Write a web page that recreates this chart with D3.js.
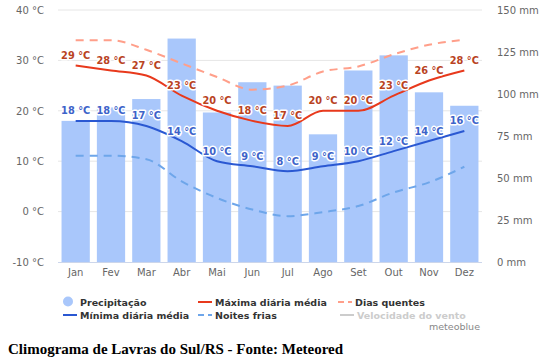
<!DOCTYPE html>
<html><head><meta charset="utf-8">
<script src="https://cdn.jsdelivr.net/npm/d3@7"></script>
<style>
body{margin:0;background:#fff;}
svg{display:block;}
</style></head>
<body>
<svg id="c" width="555" height="364"></svg>
<script>
const months = ["Jan","Fev","Mar","Abr","Mai","Jun","Jul","Ago","Set","Out","Nov","Dez"];
const precip = [84, 92, 97, 133, 89, 107, 105, 76, 114, 123, 101, 93];
const tmax = [29, 28, 27, 23, 20, 18, 17, 20, 20, 23, 26, 28];
const tmin = [18, 18, 17, 14, 10, 9, 8, 9, 10, 12, 14, 16];
const hotDays = [34, 34, 32.1, 29.4, 26.7, 24.2, 25, 27.8, 28.8, 31.2, 33.1, 34.1];
const coldNights = [11.1, 11.1, 10.4, 6.0, 2.7, 0.4, -0.9, -0.1, 1.1, 3.8, 5.8, 8.9];
const tempTicks = [-10, 0, 10, 20, 30, 40];
const precipTicks = [0, 25, 50, 75, 100, 125, 150];

const svg = d3.select("#c");
const L = 58, R = 482, T = 10, B = 262;
const font = "'DejaVu Sans', Verdana, sans-serif";

const x = d3.scaleBand().domain(months).range([L, R]).paddingInner(0.2).paddingOuter(0.1);
const yT = d3.scaleLinear().domain([-10, 40]).range([B, T]);
const yP = d3.scaleLinear().domain([0, 150]).range([B, T]);
const cx = m => x(m) + x.bandwidth() / 2;

// gridlines
svg.append("g").selectAll("line").data(tempTicks.slice(1)).join("line")
  .attr("x1", L).attr("x2", R).attr("y1", d => yT(d)).attr("y2", d => yT(d))
  .attr("stroke", "#e6e6e6").attr("stroke-width", 1);

// bars
svg.append("g").selectAll("rect").data(precip).join("rect")
  .attr("x", (d, i) => x(months[i])).attr("width", x.bandwidth())
  .attr("y", d => yP(d)).attr("height", d => B - yP(d))
  .attr("fill", "#a9c7fb");

// bottom axis line
svg.append("line").attr("x1", L).attr("x2", R).attr("y1", B + 0.5).attr("y2", B + 0.5)
  .attr("stroke", "#ccd6eb");

// axes
const gl = svg.append("g").attr("transform", `translate(${L - 14},0)`)
  .call(d3.axisLeft(yT).tickValues(tempTicks).tickSize(0).tickPadding(0).tickFormat(d => d + " °C"));
const gr = svg.append("g").attr("transform", `translate(${R + 15},0)`)
  .call(d3.axisRight(yP).tickValues(precipTicks).tickSize(0).tickPadding(0).tickFormat(d => d + " mm"));
const gb = svg.append("g").attr("transform", `translate(0,${B + 7})`)
  .call(d3.axisBottom(x).tickSize(0).tickPadding(0));
[gl, gr, gb].forEach(g => {
  g.select(".domain").remove();
  g.selectAll("text").attr("fill", "#666").style("font-family", font).style("font-size", "10px");
});

// lines
const line = (arr) => d3.line().x((d, i) => cx(months[i])).y(d => yT(d)).curve(d3.curveMonotoneX)(arr);
svg.append("path").attr("d", line(hotDays)).attr("fill", "none").attr("stroke", "#ff9f8a")
  .attr("stroke-width", 2).attr("stroke-dasharray", "8,6");
svg.append("path").attr("d", line(coldNights)).attr("fill", "none").attr("stroke", "#6ea6ea")
  .attr("stroke-width", 2).attr("stroke-dasharray", "8,6");
svg.append("path").attr("d", line(tmax)).attr("fill", "none").attr("stroke", "#e8391c").attr("stroke-width", 2);
svg.append("path").attr("d", line(tmin)).attr("fill", "none").attr("stroke", "#2a58d2").attr("stroke-width", 2);

// data labels
function labels(arr, color) {
  const g = svg.append("g").style("font-family", font).style("font-size", "9.8px").style("font-weight", "bold");
  g.selectAll("text.h").data(arr).join("text")
    .attr("x", (d, i) => cx(months[i])).attr("y", d => yT(d) - 6.5).attr("text-anchor", "middle")
    .attr("stroke", "#fff").attr("stroke-width", 3).attr("stroke-linejoin", "round").attr("fill", "#fff")
    .text(d => d + " °C");
  g.selectAll("text.f").data(arr).join("text")
    .attr("x", (d, i) => cx(months[i])).attr("y", d => yT(d) - 6.5).attr("text-anchor", "middle")
    .attr("fill", color).text(d => d + " °C");
}
labels(tmax, "#b9431f");
labels(tmin, "#3d63c9");

// legend
const lg = svg.append("g").style("font-family", font).style("font-size", "9.5px").style("font-weight", "bold");
const items = [
  {t: "Precipitação", x: 63, y: 302, type: "circle", c: "#a9c7fb", tc: "#333"},
  {t: "Máxima diária média", x: 198, y: 302, type: "line", c: "#e8391c", tc: "#333"},
  {t: "Dias quentes", x: 338, y: 302, type: "dash", c: "#ff9f8a", tc: "#333"},
  {t: "Mínima diária média", x: 63, y: 315, type: "line", c: "#2a58d2", tc: "#333"},
  {t: "Noites frias", x: 198, y: 315, type: "dash", c: "#6ea6ea", tc: "#333"},
  {t: "Velocidade do vento", x: 340, y: 315, type: "line", c: "#cccccc", tc: "#cccccc"}
];
items.forEach(it => {
  if (it.type === "circle") {
    lg.append("circle").attr("cx", it.x + 5).attr("cy", it.y - 0.5).attr("r", 5).attr("fill", it.c);
  } else {
    lg.append("line").attr("x1", it.x).attr("x2", it.x + 14).attr("y1", it.y).attr("y2", it.y)
      .attr("stroke", it.c).attr("stroke-width", 2)
      .attr("stroke-dasharray", it.type === "dash" ? "6,4" : null);
  }
  lg.append("text").attr("x", it.x + 17).attr("y", it.y + 3.5).attr("fill", it.tc).text(it.t);
});
svg.append("text").attr("x", 480).attr("y", 330).attr("text-anchor", "end")
  .style("font-family", font).style("font-size", "9.5px").attr("fill", "#888").text("meteoblue");

// title
svg.append("text").attr("x", 8).attr("y", 354)
  .style("font-family", "'Liberation Serif', 'Times New Roman', serif").style("font-size", "15px").style("font-weight", "bold")
  .attr("fill", "#000").text("Climograma de Lavras do Sul/RS - Fonte: Meteored");
</script>
</body></html>
